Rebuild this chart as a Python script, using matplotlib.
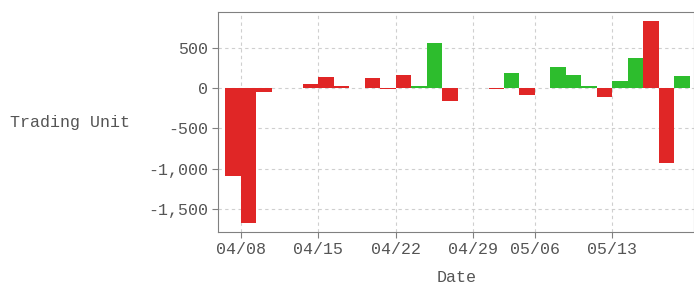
import numpy as np
import pandas as pd
import matplotlib
matplotlib.use('Agg')
import matplotlib.pyplot as plt
from matplotlib.ticker import FuncFormatter

# trading days (Apr 05 - May 17, 05/01 holiday)
dates = ['2019-04-05', '2019-04-08', '2019-04-09', '2019-04-10', '2019-04-11',
         '2019-04-12', '2019-04-15', '2019-04-16', '2019-04-17', '2019-04-18',
         '2019-04-19', '2019-04-22', '2019-04-23', '2019-04-24', '2019-04-25',
         '2019-04-26', '2019-04-29', '2019-04-30', '2019-05-02', '2019-05-03',
         '2019-05-06', '2019-05-07', '2019-05-08', '2019-05-09', '2019-05-10',
         '2019-05-13', '2019-05-14', '2019-05-15', '2019-05-16', '2019-05-17']
units = [-1090, -1680, -55, 0, 0,
         50, 140, 30, 5, 120,
         -15, 160, 25, 562, -157,
         4, 3, -8, 190, -83,
         3, 257, 157, 30, -108,
         87, 376, 831, -934, 153]
sides = ['r', 'r', 'r', 'r', 'r',
         'r', 'r', 'r', 'g', 'r',
         'r', 'r', 'g', 'g', 'r',
         'g', 'g', 'r', 'g', 'r',
         'g', 'g', 'g', 'g', 'r',
         'g', 'g', 'r', 'r', 'g']

RED = '#e02626'
GREEN = '#2dbd2d'
colors = [RED if s == 'r' else GREEN for s in sides]

plt.rcParams['font.family'] = ['Liberation Mono', 'DejaVu Sans Mono']
plt.rcParams['font.size'] = 12

d = pd.to_datetime(dates)
x = np.arange(len(d))

fig = plt.figure(figsize=(6.94, 2.85), dpi=100)
ax = fig.add_axes([0.3146, 0.187, 0.686, 0.772])

ax.bar(x, units, width=1.0, align='edge', color=colors, linewidth=0, zorder=2)

# tick on Mondays
mondays = [i for i in x if d[i].weekday() == 0]
ax.set_xticks(mondays)
ax.set_xticklabels([d[i].strftime('%m/%d') for i in mondays])
ax.set_xlim(-0.45, 30.3)
ax.set_ylim(-1783, 947)
ax.set_yticks([-1500, -1000, -500, 0, 500])
ax.yaxis.set_major_formatter(FuncFormatter(lambda v, p: '{:,.0f}'.format(v)))

ax.grid(True, linestyle=(0, (3, 3)), color='#cfcfcf', linewidth=0.8, zorder=0)
ax.set_axisbelow(True)
for s in ax.spines.values():
    s.set_color('#808080')
ax.tick_params(colors='#808080', labelcolor='#555555', length=4)

ax.set_xlabel('Date', color='#555555', labelpad=9)
ax.set_ylabel('Trading Unit', rotation=0, color='#555555', labelpad=0)
ax.yaxis.set_label_coords(-0.438, 0.464)
ax.yaxis.get_label().set_horizontalalignment('left')

fig.savefig('out.png', dpi=100)
